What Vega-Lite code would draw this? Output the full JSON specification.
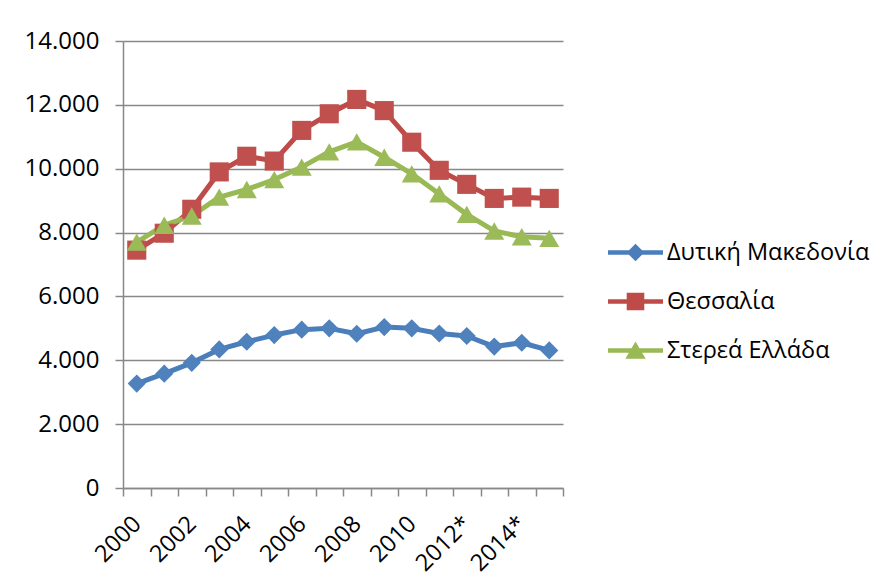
{
  "$schema": "https://vega.github.io/schema/vega-lite/v6.json",
  "width": 440,
  "height": 447,
  "autosize": {"type": "none"},
  "padding": {"left": 123, "top": 41, "right": 323, "bottom": 97},
  "background": "white",
  "config": {
    "font": "Open Sans",
    "view": {"stroke": null}
  },
  "data": {
    "values": [
      {"year": 2000, "region": "Δυτική Μακεδονία", "value": 3270},
      {"year": 2001, "region": "Δυτική Μακεδονία", "value": 3580},
      {"year": 2002, "region": "Δυτική Μακεδονία", "value": 3920},
      {"year": 2003, "region": "Δυτική Μακεδονία", "value": 4340},
      {"year": 2004, "region": "Δυτική Μακεδονία", "value": 4580},
      {"year": 2005, "region": "Δυτική Μακεδονία", "value": 4790},
      {"year": 2006, "region": "Δυτική Μακεδονία", "value": 4960},
      {"year": 2007, "region": "Δυτική Μακεδονία", "value": 5000},
      {"year": 2008, "region": "Δυτική Μακεδονία", "value": 4830},
      {"year": 2009, "region": "Δυτική Μακεδονία", "value": 5040},
      {"year": 2010, "region": "Δυτική Μακεδονία", "value": 5000},
      {"year": 2011, "region": "Δυτική Μακεδονία", "value": 4840},
      {"year": 2012, "region": "Δυτική Μακεδονία", "value": 4760},
      {"year": 2013, "region": "Δυτική Μακεδονία", "value": 4430},
      {"year": 2014, "region": "Δυτική Μακεδονία", "value": 4550},
      {"year": 2015, "region": "Δυτική Μακεδονία", "value": 4310},
      {"year": 2000, "region": "Θεσσαλία", "value": 7450},
      {"year": 2001, "region": "Θεσσαλία", "value": 7980},
      {"year": 2002, "region": "Θεσσαλία", "value": 8730},
      {"year": 2003, "region": "Θεσσαλία", "value": 9900},
      {"year": 2004, "region": "Θεσσαλία", "value": 10390},
      {"year": 2005, "region": "Θεσσαλία", "value": 10240},
      {"year": 2006, "region": "Θεσσαλία", "value": 11200},
      {"year": 2007, "region": "Θεσσαλία", "value": 11720},
      {"year": 2008, "region": "Θεσσαλία", "value": 12170},
      {"year": 2009, "region": "Θεσσαλία", "value": 11820},
      {"year": 2010, "region": "Θεσσαλία", "value": 10830},
      {"year": 2011, "region": "Θεσσαλία", "value": 9950},
      {"year": 2012, "region": "Θεσσαλία", "value": 9510},
      {"year": 2013, "region": "Θεσσαλία", "value": 9070},
      {"year": 2014, "region": "Θεσσαλία", "value": 9110},
      {"year": 2015, "region": "Θεσσαλία", "value": 9070},
      {"year": 2000, "region": "Στερεά Ελλάδα", "value": 7700},
      {"year": 2001, "region": "Στερεά Ελλάδα", "value": 8230},
      {"year": 2002, "region": "Στερεά Ελλάδα", "value": 8520},
      {"year": 2003, "region": "Στερεά Ελλάδα", "value": 9110},
      {"year": 2004, "region": "Στερεά Ελλάδα", "value": 9350},
      {"year": 2005, "region": "Στερεά Ελλάδα", "value": 9660},
      {"year": 2006, "region": "Στερεά Ελλάδα", "value": 10050},
      {"year": 2007, "region": "Στερεά Ελλάδα", "value": 10530},
      {"year": 2008, "region": "Στερεά Ελλάδα", "value": 10840},
      {"year": 2009, "region": "Στερεά Ελλάδα", "value": 10360},
      {"year": 2010, "region": "Στερεά Ελλάδα", "value": 9840},
      {"year": 2011, "region": "Στερεά Ελλάδα", "value": 9210},
      {"year": 2012, "region": "Στερεά Ελλάδα", "value": 8570},
      {"year": 2013, "region": "Στερεά Ελλάδα", "value": 8050},
      {"year": 2014, "region": "Στερεά Ελλάδα", "value": 7870},
      {"year": 2015, "region": "Στερεά Ελλάδα", "value": 7820}
    ]
  },
  "encoding": {
    "x": {
      "field": "year",
      "type": "quantitative",
      "scale": {"domain": [1999.5, 2015.5], "nice": false, "zero": false},
      "axis": {
        "title": null,
        "values": [1999.5, 2000.5, 2001.5, 2002.5, 2003.5, 2004.5, 2005.5, 2006.5, 2007.5, 2008.5, 2009.5, 2010.5, 2011.5, 2012.5, 2013.5, 2014.5, 2015.5],
        "labelExpr": "(datum.value + 0.5) % 2 == 0 && datum.value < 2015 ? toString(datum.value + 0.5) + ((datum.value + 0.5) >= 2012 ? '*' : '') : ''",
        "labelAngle": -45,
        "labelAlign": "right",
        "labelBaseline": "middle",
        "labelOffset": 14,
        "labelPadding": 24,
        "labelFontSize": 23.5,
        "labelColor": "black",
        "labelOverlap": false,
        "labelBound": false,
        "labelFlush": false,
        "tickSize": 8,
        "tickColor": "#888888",
        "tickWidth": 1.5,
        "domainColor": "#888888",
        "domainWidth": 1.5,
        "grid": false
      }
    },
    "y": {
      "field": "value",
      "type": "quantitative",
      "scale": {"domain": [0, 14000], "nice": false},
      "axis": {
        "title": null,
        "values": [0, 2000, 4000, 6000, 8000, 10000, 12000, 14000],
        "labelExpr": "replace(format(datum.value, ','), ',', '.')",
        "labelFontSize": 24,
        "labelColor": "black",
        "labelPadding": 16,
        "tickSize": 8,
        "tickColor": "#888888",
        "tickWidth": 1.5,
        "domainColor": "#888888",
        "domainWidth": 1.5,
        "grid": true,
        "gridColor": "#888888",
        "gridWidth": 1.5
      }
    }
  },
  "layer": [
    {
      "mark": {"type": "line", "strokeWidth": 5, "strokeJoin": "round", "strokeCap": "round"},
      "encoding": {
        "color": {
          "field": "region",
          "type": "nominal",
          "scale": {"domain": ["Δυτική Μακεδονία", "Θεσσαλία", "Στερεά Ελλάδα"], "range": ["#4A7EBB", "#BE4B48", "#98B954"]},
          "legend": null
        }
      }
    },
    {
      "mark": {"type": "point", "filled": true, "opacity": 1, "strokeWidth": 0},
      "encoding": {
        "color": {
          "field": "region",
          "type": "nominal",
          "scale": {"domain": ["Δυτική Μακεδονία", "Θεσσαλία", "Στερεά Ελλάδα"], "range": ["#4F81BD", "#C0504D", "#9BBB59"]},
          "legend": null
        },
        "shape": {
          "field": "region",
          "type": "nominal",
          "scale": {"domain": ["Δυτική Μακεδονία", "Θεσσαλία", "Στερεά Ελλάδα"], "range": ["diamond", "square", "triangle-up"]},
          "legend": null
        },
        "size": {
          "field": "region",
          "type": "nominal",
          "scale": {"domain": ["Δυτική Μακεδονία", "Θεσσαλία", "Στερεά Ελλάδα"], "range": [330, 400, 460]},
          "legend": null
        }
      }
    },
    {
      "transform": [{"filter": "false"}],
      "mark": {"type": "point", "filled": true, "opacity": 1, "strokeWidth": 0},
      "encoding": {
        "color": {
          "field": "region",
          "type": "nominal",
          "title": null,
          "scale": {"domain": ["Δυτική Μακεδονία", "Θεσσαλία", "Στερεά Ελλάδα"], "range": ["#4A7EBB", "#BE4B48", "#98B954"]},
          "legend": {
            "orient": "none",
            "legendX": 485,
            "legendY": 184,
            "padding": 0,
            "symbolSize": 3025,
            "symbolStrokeWidth": 0,
            "symbolOpacity": 1,
            "labelFontSize": 23.5,
            "labelColor": "black",
            "labelOffset": 4,
            "labelLimit": 400,
            "rowPadding": 10
          }
        },
        "shape": {
          "field": "region",
          "type": "nominal",
          "title": null,
          "scale": {
            "domain": ["Δυτική Μακεδονία", "Θεσσαλία", "Στερεά Ελλάδα"],
            "range": [
              "M-1,-0.085H1V0.085H-1Z M0,-0.32L0.32,0L0,0.32L-0.32,0Z",
              "M-1,-0.085H1V0.085H-1Z M-0.32,-0.32H0.32V0.32H-0.32Z",
              "M-1,-0.085H1V0.085H-1Z M0,-0.33L0.37,0.3L-0.37,0.3Z"
            ]
          },
          "legend": {
            "orient": "none",
            "legendX": 485,
            "legendY": 184,
            "padding": 0,
            "symbolSize": 3025,
            "symbolStrokeWidth": 0,
            "labelFontSize": 23.5,
            "labelColor": "black",
            "labelOffset": 4,
            "labelLimit": 400,
            "rowPadding": 10
          }
        }
      }
    }
  ],
  "resolve": {"scale": {"color": "independent", "shape": "independent", "size": "independent"}}
}
